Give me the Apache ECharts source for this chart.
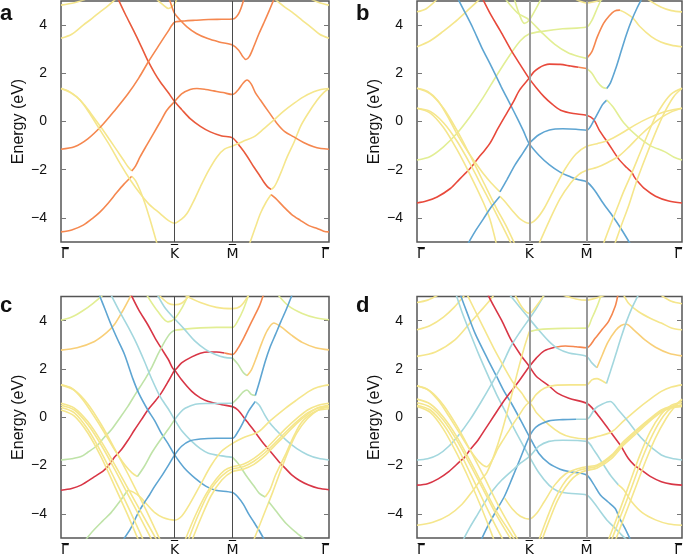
<!DOCTYPE html>
<html>
<head>
<meta charset="utf-8">
<script src="https://cdn.jsdelivr.net/npm/echarts@6/dist/echarts.min.js"></script>
<style>
  html, body { margin: 0; padding: 0; background: #fff; }
  #chart { width: 685px; height: 559px; }
</style>
</head>
<body>
<div id="chart"></div>
<script>
// high-symmetry points along the path (path length scaled to 0..100)
const kPointX = [0, 42.4, 64, 100];
const kPointLabels = ['\u0393\u0305', 'K\u0305', 'M\u0305', '\u0393\u0305'];
const energyTicks = [-4, -2, 0, 2, 4];
const panelLetters = ['a', 'b', 'c', 'd'];

const palette = {
  ra: '#e95a3c', rb: '#e8493b', r: '#d83646', o: '#f5874f', yo: '#f8cf78',
  y: '#f5e68c', gy: '#e2ee94', g: '#bfe3a8', c: '#a3d7de', b: '#5ea5d2'
};

// each band segment: [colour key, [[k, E], ...]]
const bandsA = [
  ['y', [[0, 4.83], [5, 4.93], [9, 5.06]]],
  ['y', [[100, 4.83], [96.5, 4.93], [93.5, 5.06]]],
  ['y', [[0, 3.45], [4, 3.62], [8.3, 4.0], [11.5, 4.27], [14.6, 4.55], [17.5, 4.8], [20.2, 5.06]]],
  ['y', [[100, 3.45], [96.5, 3.62], [93.1, 3.93], [90, 4.2], [86.9, 4.48], [83.5, 4.75], [80, 5.06]]],
  ['ra', [[21.4, 5.06], [24, 4.45], [27, 3.79], [30, 3.1], [32.6, 2.48], [35, 2.0], [37, 1.65], [40, 1.2], [42.4, 0.83], [45, 0.5], [48.2, 0.12], [52, -0.2], [55.7, -0.43], [60, -0.6], [64, -0.68], [66.9, -1.05], [69.5, -1.45], [71.9, -1.88], [74, -2.22], [75.6, -2.5], [77, -2.7], [78.4, -2.82]]],
  ['y', [[78.4, -2.82], [79.5, -2.72], [80.6, -2.5], [82.5, -2.0], [84.4, -1.47], [87, -0.85], [89.3, -0.22], [92, 0.3], [95.6, 0.89], [98, 1.2], [100, 1.37]]],
  ['y', [[0, 1.37], [3, 1.25], [5.9, 1.02], [9, 0.65], [12.1, 0.19], [15, -0.25], [18.3, -0.78], [21, -1.22], [23.3, -1.6], [25, -1.88], [26.4, -2.05]]],
  ['o', [[26.4, -2.05], [27.8, -1.85], [29.5, -1.47], [32, -0.98], [34.5, -0.5], [37, -0.02], [39.5, 0.47], [42.4, 0.83], [45, 1.15], [48.2, 1.33], [50.7, 1.37], [54, 1.33], [57, 1.27], [60.5, 1.2], [64, 1.12], [66, 1.3], [68, 1.6], [69.4, 1.72], [71, 1.55], [72.5, 1.2], [74.4, 0.89], [77.5, 0.4], [80.6, -0.08], [83.5, -0.42], [86.9, -0.64], [90.5, -0.87], [94.3, -1.05], [97, -1.12], [100, -1.15]]],
  ['o', [[0, -1.15], [5, -1.05], [10, -0.72], [15, -0.2], [20, 0.45], [25, 1.15], [29, 1.8], [32.6, 2.48], [37, 3.24], [40, 3.75], [42.4, 4.12], [46, 4.17], [50, 4.2], [55, 4.23], [60, 4.24], [64, 4.25], [66.3, 4.48], [68.2, 5.06]]],
  ['o', [[0, -4.58], [4, -4.5], [8.3, -4.3], [12, -4.0], [14.6, -3.75], [17.5, -3.4], [20.8, -2.95], [23.5, -2.6], [26.4, -2.27]]],
  ['y', [[26.4, -2.27], [27.8, -2.45], [29.5, -2.85], [31.5, -3.45], [33.3, -4.1], [35.8, -5.06]]],
  ['y', [[0, 1.37], [3.5, 1.2], [7.1, 0.89], [11, 0.28], [14.6, -0.36], [18.5, -1.05], [22, -1.74], [26, -2.45], [29.5, -2.99], [33, -3.45], [37, -3.82], [40, -4.1], [42.4, -4.22], [45, -4.05], [47, -3.82], [49.5, -3.3], [52, -2.71], [55, -2.05], [58.2, -1.47], [61, -1.15], [64, -1.02], [68, -0.82], [71.9, -0.64], [75.5, -0.32], [79.4, 0.06], [83, 0.42], [86.9, 0.75], [90.5, 1.02], [94.3, 1.23], [97, 1.33], [100, 1.37]]],
  ['y', [[70.4, -5.06], [72.5, -4.4], [74.4, -3.82], [76.5, -3.35], [78.4, -3.03]]],
  ['o', [[78.4, -3.03], [80, -3.18], [83.1, -3.54], [86, -3.85], [89.3, -4.1], [92.5, -4.32], [95.6, -4.44], [98, -4.55], [100, -4.58]]],
  ['y', [[35.8, 5.06], [38, 4.85], [40.1, 4.69], [41.5, 4.78], [42.4, 4.9], [43.2, 5.06]]],
  ['o', [[40.5, 5.06], [41.5, 4.72], [42.4, 4.48], [44.5, 4.2], [47, 3.93], [50.5, 3.65], [54.5, 3.45], [59, 3.3], [64, 3.17], [66.3, 2.96], [67.8, 2.7], [69, 2.57], [70.3, 2.7], [71.9, 3.1], [73.7, 3.6], [75.6, 4.07], [77.5, 4.55], [79.4, 5.06]]]
];

const bandsB = [
  ['y', [[0, 4.55], [3.5, 4.68], [7.5, 5.06]]],
  ['y', [[100, 4.55], [96, 4.6], [92, 4.75], [87.2, 5.06]]],
  ['y', [[0, 3.1], [5, 3.35], [10, 3.75], [14, 4.1], [18.8, 4.58], [23.5, 5.06]]],
  ['gy', [[0, -1.6], [5, -1.45], [10, -1.05], [15, -0.5], [20, 0.2], [25, 1.0], [30, 1.9], [35, 2.75], [39, 3.35], [42.3, 3.63], [48, 3.75], [55, 3.85], [64, 3.92], [66, 4.2], [68, 4.7], [69.5, 5.06]]],
  ['gy', [[33.5, 5.06], [38, 4.5], [42.3, 4.22], [47, 3.7], [52, 3.2], [57, 2.85], [61, 2.7], [64, 2.62]]],
  ['o', [[64, 2.62], [66, 2.9], [68, 3.5], [70.4, 4.07], [72.5, 4.38], [74.5, 4.58], [76.6, 4.62]]],
  ['y', [[76.6, 4.62], [78.5, 4.52], [81.6, 4.28], [84, 3.95], [88.4, 3.52], [92, 3.3], [95.9, 3.17], [100, 3.1]]],
  ['gy', [[36.8, 5.06], [38.6, 4.45], [40.5, 4.07], [42.3, 4.2], [44.5, 4.6], [46.7, 5.06]]],
  ['y', [[60, 5.06], [64, 4.92], [67, 4.97], [70, 5.06]]],
  ['b', [[15.6, 5.06], [18, 4.55], [21, 3.9], [24.3, 3.1], [28, 2.3], [31.8, 1.44], [35, 0.75], [38, 0.1], [40.2, -0.4], [42.3, -0.91], [46, -1.4], [50, -1.8], [54, -2.1], [58, -2.3], [61, -2.42], [64, -2.5], [67, -2.85], [70, -3.35], [74, -3.95], [77, -4.45], [80.4, -5.06]]],
  ['rb', [[24.9, 5.06], [28, 4.4], [31.5, 3.75], [35.5, 2.96], [39, 2.35], [42.3, 1.79], [45, 1.4], [48, 1.02], [51, 0.72], [54.2, 0.47], [59, 0.33], [64, 0.26], [66.5, 0.1], [69, -0.4], [72.2, -0.91], [76, -1.54], [79, -1.9], [81, -2.1], [82, -2.3], [83, -2.45], [86, -2.8], [90, -3.1], [95, -3.3], [100, -3.38]]],
  ['rb', [[0, -3.38], [3.5, -3.3], [7.6, -3.13], [12.6, -2.78], [16, -2.4], [18.5, -2.12], [20, -1.95], [21.5, -1.75], [23.2, -1.5], [25.5, -1.2], [27.5, -0.91], [30.5, -0.3], [33.8, 0.33], [36.3, 0.8], [38.7, 1.3], [42.3, 1.79], [44, 2.05], [46, 2.22], [48, 2.33], [50, 2.38], [54, 2.37], [58, 2.3], [61, 2.25]]],
  ['o', [[61, 2.25], [64, 2.2]]],
  ['gy', [[64, 2.2], [66, 2.0], [68, 1.65], [70, 1.42], [71.6, 1.37]]],
  ['b', [[71.6, 1.37], [73, 1.6], [75, 2.2], [77, 2.9], [79, 3.6], [81, 4.2], [83, 4.7], [84.7, 5.06]]],
  ['b', [[42.3, -0.91], [46, -0.55], [50, -0.35], [55, -0.3], [60, -0.32], [64, -0.36], [67, 0.1], [70, 0.7], [71.6, 0.89]]],
  ['gy', [[71.6, 0.89], [74, 0.6], [78, -0.05], [83, -0.6], [88, -1.0], [93.4, -1.25], [97, -1.48], [100, -1.6]]],
  ['y', [[0, 1.38], [4, 1.25], [8, 0.85], [12.6, 0.0], [15.5, -0.6], [18.8, -1.19], [22, -1.7], [25, -2.16], [28, -2.55], [31.3, -2.92]]],
  ['b', [[31.3, -2.92], [34, -2.4], [37, -1.8], [40, -1.3], [42.3, -0.91]]],
  ['y', [[0, 1.38], [5, 1.15], [10, 0.55], [15, -0.35], [20, -1.4], [25, -2.5], [30, -3.6], [33.5, -4.3], [36.8, -5.06]]],
  ['y', [[0, 0.55], [5, 0.35], [10, -0.25], [15, -1.15], [20, -2.2], [25, -3.35], [27.5, -4.05], [29.9, -5.06]]],
  ['y', [[0, 0.55], [5, 0.42], [10, -0.05], [15, -0.8], [20, -1.75], [25, -2.8], [30, -3.85], [35.5, -5.06]]],
  ['b', [[19.3, -5.06], [22, -4.55], [25, -4.05], [28, -3.55], [31.3, -3.1]]],
  ['y', [[31.3, -3.1], [33, -3.3], [36, -3.7], [39, -4.05], [42.3, -4.22], [45, -4.05], [48, -3.6], [52, -2.75], [56, -1.95], [60, -1.35], [64, -1.03], [68, -0.92], [72.2, -0.78], [77, -0.5], [82.2, -0.15], [87.5, 0.15], [93.4, 0.4], [97, 0.5], [100, 0.55]]],
  ['y', [[46.1, -5.06], [50, -4.1], [54, -3.2], [58, -2.55], [61, -2.2], [64, -2.02], [68, -1.9], [72, -1.7], [76, -1.45], [80, -1.05], [84, -0.6], [88, -0.2], [92, 0.15], [96, 0.4], [100, 0.55]]],
  ['y', [[70.4, -5.06], [73, -4.3], [75.5, -3.6], [78, -2.9], [81, -2.15], [84, -1.35], [87, -0.55], [90, 0.2], [93, 0.75], [96, 1.15], [100, 1.38]]],
  ['y', [[74.7, -5.06], [77, -4.35], [80, -3.45], [82.5, -2.6], [85, -1.85], [88, -1.0], [91, -0.2], [94, 0.5], [97, 1.05], [100, 1.38]]]
];

const bandsC = [
  ['gy', [[0, 4.02], [4, 4.15], [8, 4.4], [12, 4.72], [15.6, 5.06]]],
  ['gy', [[100, 4.04], [95, 4.12], [90, 4.3], [85, 4.6], [81, 5.06]]],
  ['yo', [[0, 2.78], [6, 2.88], [12.5, 3.14], [17, 3.5], [20, 3.85], [23, 4.4], [26.2, 5.06]]],
  ['r', [[26.2, 5.06], [29, 4.45], [32.4, 3.83], [35, 3.3], [37.4, 2.86], [40, 2.4], [42.4, 1.96], [45, 2.25], [48.8, 2.5], [52, 2.65], [55, 2.7], [58, 2.7], [61, 2.66]]],
  ['o', [[61, 2.66], [64, 2.6], [66, 2.85], [68, 3.25], [70, 3.7], [72, 4.15], [74, 4.6], [75.5, 5.06]]],
  ['r', [[42.4, 1.96], [45, 1.55], [48.8, 1.07], [52, 0.8], [55, 0.65], [60, 0.52], [64, 0.44], [66, 0.3], [69.4, -0.18], [72, -0.55], [75, -1.0], [78, -1.4], [81, -1.8], [84, -2.15], [86.2, -2.4], [89, -2.62], [92.4, -2.81], [96, -2.94], [100, -3.0]]],
  ['r', [[0, -3.02], [4, -2.95], [7.5, -2.81], [12.5, -2.46], [16, -2.2], [18.4, -1.9], [20, -1.65], [22.4, -1.36], [25, -0.95], [27.4, -0.53], [30, -0.1], [32.4, 0.3], [35, 0.65], [37.4, 1.0], [40.1, 1.5], [42.4, 1.96]]],
  ['g', [[0, -1.77], [4, -1.72], [7.5, -1.63], [10, -1.45], [13.7, -1.15], [16, -0.85], [18.7, -0.53], [21.5, -0.1], [24.9, 0.44], [28, 1.0], [31.2, 1.55], [34, 2.1], [36.1, 2.59], [38, 3.0], [39.9, 3.35], [41, 3.5], [42.4, 3.6]]],
  ['gy', [[42.4, 3.6], [46, 3.65], [52, 3.7], [58, 3.72], [64, 3.72], [66, 4.0], [68, 4.45], [70, 5.06]]],
  ['c', [[36, 5.06], [39, 4.5], [42.4, 4.08], [46, 3.65], [50, 3.15], [54, 2.8], [57.6, 2.6], [61, 2.48], [64, 2.45]]],
  ['g', [[64, 2.45], [66, 2.2], [68, 1.85], [69.4, 1.72]]],
  ['yo', [[69.4, 1.72], [71, 1.95], [73, 2.5], [75, 3.1], [77, 3.6], [79.4, 3.9], [82, 3.75], [86, 3.4], [90, 3.1], [95, 2.88], [100, 2.79]]],
  ['gy', [[32, 5.06], [36, 4.4], [39.9, 3.95], [42.4, 4.08], [45, 4.5], [47.5, 5.06]]],
  ['y', [[36.5, 5.06], [40, 4.72], [42.4, 4.66], [45, 4.72], [48, 5.06]]],
  ['y', [[46, 5.06], [52, 4.75], [58, 4.55], [64, 4.5], [67, 4.6], [70, 5.06]]],
  ['b', [[14.3, 5.06], [16.5, 4.45], [18.7, 3.83], [21, 3.25], [23.7, 2.6], [26.8, 1.6], [29, 1.0], [32.4, 0.3], [35, -0.15], [37.4, -0.66], [40, -1.1], [42.4, -1.56], [46, -2.1], [50.1, -2.53], [54, -2.85], [57.6, -3.02], [64, -3.12], [66, -3.3], [68, -3.6], [70, -4.0], [72, -4.35], [74, -4.7], [75.8, -5.06]]],
  ['c', [[18.7, 5.06], [22, 4.35], [25, 3.75], [28, 3.1], [31, 2.35], [34, 1.55], [37, 0.85], [40, 0.35], [42.4, -0.1], [45, -0.55], [48.8, -1.0], [52, -1.3], [55, -1.49], [60, -1.6], [64, -1.66]]],
  ['g', [[64, -1.66], [66, -1.9], [69, -2.4], [72, -2.85], [74, -3.15], [76.2, -3.3]]],
  ['y', [[76.2, -3.3], [78, -3.0], [80, -2.4], [83.7, -1.56], [87, -0.75], [90, -0.18], [95, 0.25], [100, 0.35]]],
  ['b', [[42.4, -1.56], [45, -1.2], [48, -0.98], [52, -0.9], [58, -0.87], [64, -0.87], [66, -0.6], [68, -0.2], [70, 0.25], [72.5, 0.65]]],
  ['c', [[72.5, 0.65], [74, 0.5], [76, 0.1], [78, -0.25], [80, -0.5], [84, -0.95], [88, -1.3], [92, -1.55], [96, -1.7], [100, -1.77]]],
  ['c', [[42.4, -0.1], [44.5, 0.2], [46.3, 0.37], [50.1, 0.54], [55, 0.57], [64, 0.58]]],
  ['g', [[64, 0.58], [66, 0.8], [68, 1.05], [69.4, 1.13], [71, 0.95], [72.5, 0.9]]],
  ['b', [[72.5, 0.9], [74, 1.45], [76.2, 2.31], [78, 2.9], [80, 3.42], [82, 3.95], [84, 4.45], [86.2, 5.06]]],
  ['y', [[0, 1.34], [4, 1.2], [8, 0.75], [12, 0.1], [16, -0.6], [20, -1.35], [24, -2.0], [26.5, -2.3], [28.5, -2.46]]],
  ['g', [[28.5, -2.46], [31, -2.05], [34, -1.45], [37, -0.95], [40, -0.5], [42.4, -0.1]]],
  ['g', [[9.3, -5.06], [12, -4.7], [15.5, -4.3], [18.7, -3.95], [21.5, -3.55], [24.9, -3.02]]],
  ['y', [[24.9, -3.02], [27, -3.1], [29.5, -3.3], [32, -3.6], [35, -3.95], [38, -4.15], [42.4, -4.26], [45, -4.1], [48, -3.6], [52, -2.8], [56, -2.0], [60, -1.4], [64, -1.08], [68, -0.85], [73.7, -0.6], [78, -0.15], [83.7, 0.37], [88, 0.72], [92.5, 1.07], [96, 1.25], [100, 1.34]]],
  ['b', [[23.3, -5.06], [26, -4.6], [28.7, -3.98], [31, -3.55], [33, -3.22], [35, -2.85], [37.4, -2.46], [40, -2.0], [42.4, -1.56]]],
  ['y', [[0, 1.34], [5, 1.12], [10, 0.55], [15, -0.3], [20, -1.3], [25, -2.35], [30, -3.45], [33.5, -4.25], [36.9, -5.06]]],
  ['y', [[0, 0.58], [5, 0.38], [10, -0.18], [15, -1.0], [20, -1.95], [25, -2.95], [30, -3.95], [35.6, -5.06]]],
  ['y', [[0, 0.5], [5, 0.3], [10, -0.3], [15, -1.15], [20, -2.15], [25, -3.2], [30, -4.25], [33.8, -5.06]]],
  ['y', [[0, 0.4], [5, 0.18], [10, -0.5], [15, -1.45], [20, -2.55], [25, -3.7], [30.6, -5.06]]],
  ['y', [[0, 0.3], [5, 0.05], [10, -0.65], [15, -1.65], [20, -2.85], [24.5, -3.95], [28.8, -5.06]]],
  ['y', [[46.4, -5.06], [50, -4.1], [54, -3.2], [58, -2.55], [61, -2.2], [64, -2.05], [68, -1.95], [72, -1.7], [76, -1.35], [80, -0.9], [84, -0.45], [88, -0.05], [92, 0.3], [96, 0.5], [100, 0.58]]],
  ['y', [[47.6, -5.06], [51, -4.1], [55, -3.15], [59, -2.55], [62, -2.25], [64, -2.14], [68, -2.05], [72, -1.82], [76, -1.48], [80, -1.05], [84, -0.6], [88, -0.18], [92, 0.18], [96, 0.38], [100, 0.44]]],
  ['y', [[49, -5.06], [52.5, -4.1], [56, -3.25], [60, -2.6], [64, -2.25], [68, -2.15], [72, -1.95], [76, -1.6], [80, -1.15], [84, -0.7], [88, -0.25], [92, 0.12], [96, 0.4], [100, 0.5]]],
  ['y', [[72, -5.06], [74, -4.5], [76.5, -3.8], [79, -3.1], [82, -2.2], [85, -1.35], [88, -0.65], [92, -0.05], [96, 0.3], [100, 0.44]]],
  ['g', [[77.5, -3.5], [80, -3.85], [84, -4.4], [88, -4.8], [91, -5.06]]]
];

const bandsD = [
  ['y', [[0, 4.75], [4, 4.85], [8, 5.06]]],
  ['y', [[100, 4.7], [96, 4.8], [92, 5.06]]],
  ['y', [[0, 3.62], [5, 3.8], [10, 4.15], [14, 4.55], [18, 5.06]]],
  ['y', [[100, 3.62], [96, 3.7], [92.2, 3.9], [88, 4.1], [83.5, 4.38], [80, 4.7], [78, 5.06]]],
  ['y', [[0, 2.52], [7, 2.7], [14.3, 3.2], [20, 3.9], [24, 4.4], [26.8, 4.75], [29, 5.06]]],
  ['c', [[14.8, 5.06], [17, 4.35], [20, 3.5], [23.5, 2.55], [26.9, 1.7], [30, 0.95], [34, 0.1], [38, -0.75], [42.4, -1.63], [46, -2.3], [49.8, -2.81], [53, -3.05], [57.3, -3.15], [64, -3.22], [66.5, -3.5], [69.2, -3.9], [72, -4.3], [74.8, -4.6], [77, -4.85], [79, -5.06]]],
  ['b', [[16.4, 5.06], [19, 4.3], [22, 3.45], [26.8, 2.38], [30, 1.7], [33, 1.05], [35.5, 0.6], [39, -0.1], [42.4, -0.8], [46, -1.5], [49.8, -1.91], [54, -2.15], [57.3, -2.25], [64, -2.39], [66.5, -2.75], [69.2, -3.22], [72, -3.5], [74.8, -3.78], [76.5, -4.2], [78.5, -4.6], [80.5, -5.06]]],
  ['r', [[26.8, 5.06], [29, 4.6], [32, 4.0], [35.5, 3.2], [39, 2.6], [42.4, 2.1], [45, 1.7], [49.8, 1.3], [53, 1.0], [57.3, 0.79], [64, 0.58], [66, 0.4], [69.2, -0.04], [72, -0.45], [74.8, -0.87], [77, -1.2], [79.7, -1.7], [82, -1.98], [84.7, -2.19], [88, -2.45], [92.2, -2.67], [96, -2.77], [100, -2.81]]],
  ['r', [[0, -2.81], [4, -2.75], [8, -2.55], [12, -2.25], [16, -1.85], [18, -1.65], [20, -1.35], [23, -0.95], [26, -0.45], [29, 0.05], [32, 0.55], [35, 1.0], [38.5, 1.5], [42.4, 2.1], [45, 2.45], [48, 2.75], [52, 2.9]]],
  ['o', [[52, 2.9], [56, 2.95], [60, 2.92], [64, 2.88], [67.3, 3.28], [70, 3.65], [72.3, 3.97], [74.8, 4.6], [75.8, 5.06]]],
  ['c', [[35, 5.06], [38.5, 4.6], [42.4, 4.08], [46, 3.6], [49.8, 3.14], [53, 2.85], [57.3, 2.66], [64, 2.52], [66, 2.25], [67.9, 2.05]]],
  ['yo', [[67.9, 2.05], [70, 2.6], [72, 3.1], [75, 3.6], [77, 3.8], [79, 3.85], [82, 3.6], [86, 3.2], [90, 2.9], [95, 2.65], [100, 2.54]]],
  ['c', [[0, -1.77], [4, -1.72], [8, -1.55], [12, -1.2], [16, -0.7], [20, -0.1], [24, 0.6], [28, 1.35], [32, 2.15], [35.5, 2.95], [39, 3.55], [42.4, 4.08], [45, 4.5], [48, 5.06]]],
  ['y', [[0, -4.47], [6, -4.35], [12, -4.05], [17, -3.6], [21, -3.05], [24, -2.6], [26.3, -2.3], [29, -1.6], [32, -0.6], [35, 0.6], [38, 1.9], [40.5, 2.9], [42.4, 3.55]]],
  ['gy', [[42.4, 3.55], [46, 3.63], [55, 3.68], [64, 3.69], [66, 4.1], [68, 4.6], [69.5, 5.06]]],
  ['y', [[19, 5.06], [24, 3.95], [29, 2.85], [33, 2.05], [36.2, 1.45], [39.5, 1.0], [42.4, 0.6], [45, 0.95], [48, 1.2], [52, 1.32], [58, 1.34], [64, 1.34], [66, 1.55], [68, 1.6], [70, 1.5], [71.5, 1.4]]],
  ['c', [[71.5, 1.4], [73, 1.9], [75, 2.6], [77, 3.3], [79, 3.95], [81, 4.5], [83.5, 5.06]]],
  ['y', [[0, 1.3], [4, 1.15], [8, 0.7], [12, 0.05], [16, -0.65], [20, -1.35], [23.5, -1.85], [26.3, -2.05], [28.5, -1.75], [30.5, -1.3], [32.5, -0.94], [35, -0.5], [38, 0.0], [42.4, 0.6], [45, 0.2], [49.8, -0.32], [54, -0.65], [58, -0.82], [64, -0.9], [68, -0.8], [73.5, -0.6], [78, -0.15], [83.5, 0.37], [88, 0.75], [92.2, 1.07], [96, 1.25], [100, 1.34]]],
  ['b', [[24.3, -5.06], [27, -4.45], [30, -3.85], [33.1, -3.25], [36, -2.5], [39, -1.7], [42.4, -0.8], [45, -0.4], [49.8, -0.15], [55, -0.1], [60, -0.08]]],
  ['c', [[60, -0.08], [64, -0.08], [67.3, 0.37], [70, 0.55], [72.9, 0.65], [76, 0.3], [79.7, -0.18], [83, -0.65], [86, -1.01], [89, -1.3], [92.2, -1.56], [96, -1.7], [100, -1.77]]],
  ['c', [[17.5, -5.06], [20, -4.55], [23, -4.0], [26, -3.45], [28.8, -3.0], [32, -2.6], [36, -2.2], [39, -1.9], [42.4, -1.63], [46, -1.2], [49.8, -1.0], [55, -0.95], [64, -1.0], [67, -1.4], [70, -1.9], [73, -2.4], [76, -2.8]]],
  ['y', [[76, -2.8], [78, -3.0], [81, -3.5], [85, -3.95], [90, -4.25], [95, -4.42], [100, -4.47]]],
  ['y', [[33.1, -3.35], [36, -3.8], [39, -4.1], [42.4, -4.22], [45, -4.0], [48, -3.5], [52, -2.8], [56, -2.35], [60, -2.15], [64, -2.05], [68, -1.98], [73.5, -1.56], [78, -1.0], [83.5, -0.46], [88, -0.05], [92.2, 0.3], [96, 0.45], [100, 0.51]]],
  ['y', [[46.1, -5.06], [49, -4.2], [52, -3.4], [55, -2.8], [58, -2.4], [61, -2.2], [64, -2.12], [68, -2.03], [73.5, -1.62], [78, -1.08], [83.5, -0.52], [88, -0.1], [92.2, 0.25], [96, 0.42], [100, 0.48]]],
  ['y', [[47.2, -5.06], [50, -4.25], [53, -3.45], [56, -2.9], [59, -2.5], [62, -2.28], [64, -2.2], [68, -2.1], [73.5, -1.7], [78, -1.15], [83.5, -0.6], [88, -0.15], [92.2, 0.2], [96, 0.38], [100, 0.45]]],
  ['y', [[0, 1.3], [5, 1.08], [10, 0.5], [15, -0.35], [20, -1.35], [25, -2.4], [30, -3.5], [34, -4.3], [38, -5.06]]],
  ['y', [[0, 0.75], [5, 0.55], [10, 0.0], [15, -0.8], [20, -1.8], [25, -2.85], [30, -3.9], [33.5, -4.5], [36.8, -5.06]]],
  ['y', [[0, 0.6], [5, 0.42], [10, -0.12], [15, -0.95], [20, -1.95], [25, -3.0], [30, -4.05], [35.5, -5.06]]],
  ['y', [[0, 0.5], [5, 0.3], [10, -0.3], [15, -1.2], [20, -2.3], [25, -3.45], [29, -4.35], [32.4, -5.06]]],
  ['y', [[0, 0.45], [5, 0.2], [10, -0.5], [15, -1.5], [20, -2.65], [24.5, -3.8], [29, -5.06]]],
  ['y', [[72.3, -5.06], [76, -4.0], [80, -2.8], [84, -1.6], [88, -0.6], [92, 0.1], [96, 0.5], [100, 0.6]]],
  ['y', [[73.5, -5.06], [77, -4.05], [81, -2.9], [85, -1.7], [89, -0.7], [93, 0.05], [96.5, 0.45], [100, 0.7]]],
  ['y', [[75, -5.06], [78.5, -4.05], [82.5, -2.9], [86.5, -1.75], [90, -0.85], [94, -0.05], [97, 0.4], [100, 0.75]]],
  ['y', [[37, 5.06], [40, 4.5], [42.4, 4.3], [45, 4.6], [48, 5.06]]],
  ['y', [[55, 5.06], [60, 4.9], [64, 4.85], [68, 4.95], [71, 5.06]]]
];

const panels = [bandsA, bandsB, bandsC, bandsD];

const FONT = 'Liberation Sans, Arial, Helvetica, sans-serif';
const gridBoxes = [
  { left: 61, top: 1, width: 268, height: 241 },
  { left: 417, top: 1, width: 267, height: 241 },
  { left: 61, top: 296.5, width: 268, height: 241.5 },
  { left: 417, top: 296.5, width: 267, height: 241.5 }
];
const letterPos = [[0, 3], [356, 3], [0, 295], [356, 295]];
const dividerStyle = [
  { color: '#4a4a4a', width: 1 },
  { color: '#9a9a9a', width: 2 },
  { color: '#4a4a4a', width: 1 },
  { color: '#9a9a9a', width: 2 }
];

const formatEnergy = (v) => (v < 0 ? '\u2212' + Math.abs(v) : String(v));
const formatK = (v) => {
  const i = kPointX.findIndex((x) => Math.abs(x - v) < 1e-6);
  return i >= 0 ? kPointLabels[i] : '';
};

const grid = [];
const xAxis = [];
const yAxis = [];
const series = [];
const title = [];

panels.forEach((bands, i) => {
  grid.push({
    ...gridBoxes[i],
    show: true,
    borderColor: '#555',
    borderWidth: 1.5,
    backgroundColor: 'transparent'
  });

  xAxis.push({
    gridIndex: i,
    type: 'value',
    min: 0,
    max: 100,
    axisLine: { show: false },
    splitLine: { show: false },
    axisTick: { show: false },
    axisLabel: {
      customValues: kPointX,
      formatter: formatK,
      color: '#111',
      fontSize: 14,
      fontFamily: 'DejaVu Sans',
      margin: 5,
      alignMinLabel: 'left',
      alignMaxLabel: 'right'
    }
  });

  const yBase = {
    gridIndex: i,
    type: 'value',
    min: -5,
    max: 5,
    axisLine: { show: false },
    splitLine: { show: false },
    axisTick: {
      show: true,
      inside: true,
      length: 5,
      customValues: energyTicks,
      lineStyle: { color: '#777', width: 1 }
    }
  };
  yAxis.push({
    ...yBase,
    position: 'left',
    axisLabel: {
      customValues: energyTicks,
      formatter: formatEnergy,
      color: '#111',
      fontSize: 14,
      fontFamily: FONT,
      margin: 14
    },
    name: 'Energy (eV)',
    nameLocation: 'middle',
    nameGap: 34,
    nameTextStyle: { color: '#111', fontSize: 16, fontFamily: FONT }
  });
  yAxis.push({
    ...yBase,
    position: 'right',
    axisLabel: { show: false }
  });

  title.push({
    text: panelLetters[i],
    left: letterPos[i][0],
    top: letterPos[i][1],
    padding: 0,
    textStyle: { fontSize: 22, fontWeight: 'bold', color: '#111', fontFamily: FONT }
  });

  // K and M divider lines
  series.push({
    type: 'line',
    xAxisIndex: i,
    yAxisIndex: i * 2,
    data: [],
    silent: true,
    markLine: {
      silent: true,
      symbol: 'none',
      label: { show: false },
      lineStyle: { type: 'solid', ...dividerStyle[i] },
      data: [{ xAxis: kPointX[1] }, { xAxis: kPointX[2] }]
    }
  });

  bands.forEach(([colorKey, points]) => {
    series.push({
      type: 'line',
      xAxisIndex: i,
      yAxisIndex: i * 2,
      data: points,
      smooth: 0.3,
      showSymbol: false,
      symbol: 'none',
      clip: true,
      silent: true,
      lineStyle: { color: palette[colorKey], width: 1.6 }
    });
  });
});

const chart = echarts.init(document.getElementById('chart'), null, { renderer: 'canvas' });
chart.setOption({
  animation: false,
  backgroundColor: '#fff',
  title,
  grid,
  xAxis,
  yAxis,
  series
});
</script>
</body>
</html>
